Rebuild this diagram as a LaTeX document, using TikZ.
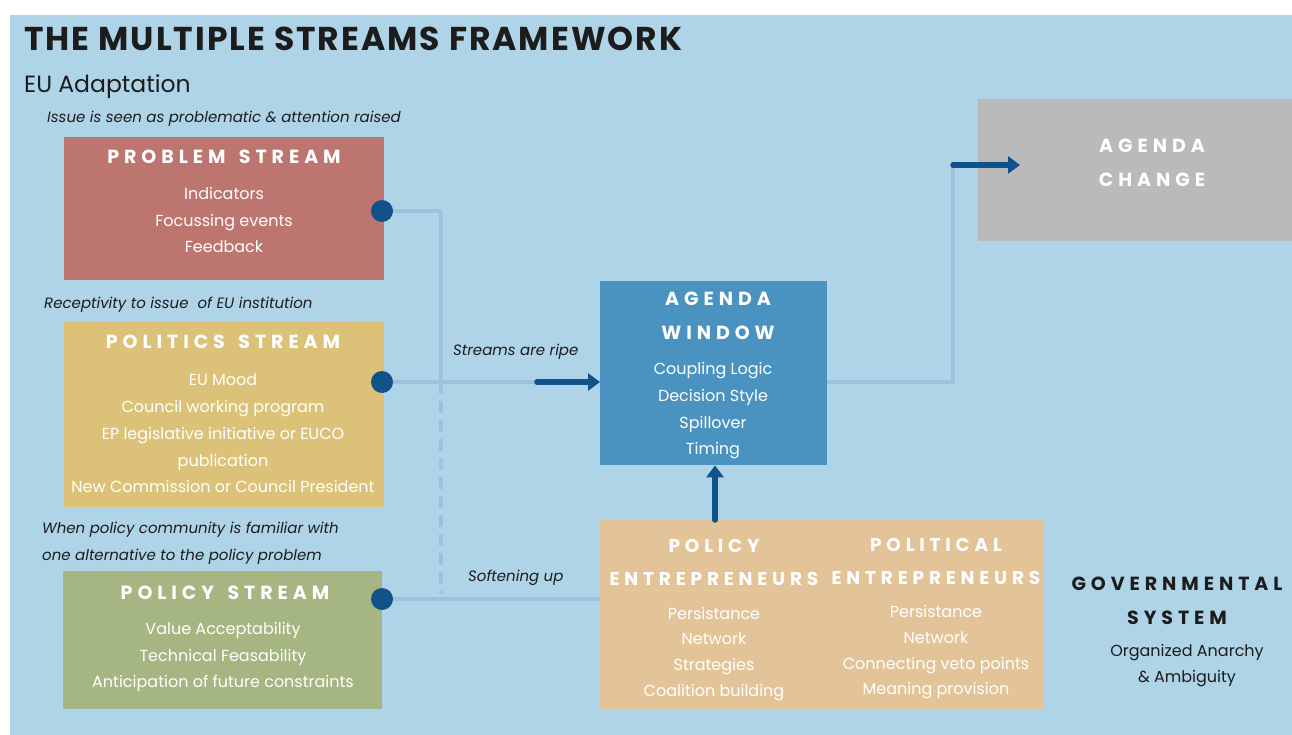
\documentclass[tikz,border=0pt]{standalone}
\usepackage{fontspec}
\setmainfont{Poppins}
\newfontfamily\headfont[LetterSpace=26,WordSpace=1.5]{Poppins}
\newfontfamily\titlefont[LetterSpace=6]{Poppins}
\usetikzlibrary{arrows.meta}

\definecolor{bgblue}{RGB}{175,212,232}
\definecolor{problemred}{RGB}{189,117,112}
\definecolor{politicsgold}{RGB}{220,194,120}
\definecolor{policygreen}{RGB}{165,182,130}
\definecolor{windowblue}{RGB}{74,147,192}
\definecolor{changegrey}{RGB}{186,186,186}
\definecolor{entresand}{RGB}{227,196,152}
\definecolor{dotblue}{RGB}{18,82,138}
\definecolor{linkblue}{RGB}{158,194,217}
\definecolor{inkdark}{RGB}{28,28,28}

\begin{document}
\begin{tikzpicture}[x=1pt,y=-1pt,
  box/.style={inner sep=0pt, anchor=north west},
  head/.style={text=white, align=center, font=\headfont\bfseries\fontsize{19}{34}\selectfont},
  item/.style={text=white, align=center, font=\fontsize{16}{26.8}\selectfont},
  note/.style={anchor=west, inner sep=0pt, text=inkdark, font=\itshape\fontsize{15}{27}\selectfont},
  dot/.style={circle, fill=dotblue, minimum size=22pt, inner sep=0pt},
  link/.style={line width=4pt, draw=linkblue},
  push/.style={line width=5.5pt, draw=dotblue, line cap=round, -{Triangle[length=12pt,width=17pt]}}
]
% page
\useasboundingbox (0,0) rectangle (1292,735);
\fill[bgblue] (10,15) rectangle (1292,735);

% heading
\node[anchor=base west, inner sep=0pt, text=inkdark, font=\titlefont\bfseries\fontsize{33}{33}\selectfont] (title) at (24,51) {THE MULTIPLE STREAMS FRAMEWORK};
\node[anchor=base west, inner sep=0pt, text=inkdark, font=\fontsize{23.5}{23.5}\selectfont] (sub) at (24,93) {EU Adaptation};

% the three streams
\node[note] (probnote) at (47,119) {Issue is seen as problematic \& attention raised};
\node[box, fill=problemred, minimum width=320pt, minimum height=143pt] (problem) at (64,137) {};
\node[head] at (224,157) {PROBLEM STREAM};
\node[item] at (224,220) {Indicators\\Focussing events\\Feedback};

\node[note] (polinote) at (44,305) {Receptivity to issue\ \ of EU institution};
\node[box, fill=politicsgold, minimum width=320pt, minimum height=185pt] (politics) at (64,322) {};
\node[head] at (223,342) {POLITICS STREAM};
\node[item] at (223,433.5) {EU Mood\\Council working program\\EP legislative initiative or EUCO\\publication\\New Commission or Council President};

\node[note, align=left] (policynote) at (42,543.5) {When policy community is familiar with\\one alternative to the policy problem};
\node[box, fill=policygreen, minimum width=319pt, minimum height=138pt] (policy) at (63,571) {};
\node[head] at (225,593) {POLICY STREAM};
\node[item] at (223,657) {Value Acceptability\\Technical Feasability\\Anticipation of future constraints};

% window, change, entrepreneurs
\node[box, fill=windowblue, minimum width=227pt, minimum height=184pt] (window) at (600,281) {};
\node[head] at (718,316) {AGENDA\\WINDOW};
\node[item] at (713,410.8) {Coupling Logic\\Decision Style\\Spillover\\Timing};

\node[box, fill=changegrey, minimum width=314pt, minimum height=142pt] (change) at (978,99) {};
\node[head] at (1152,162.5) {AGENDA\\CHANGE};

\node[box, fill=entresand, minimum width=443pt, minimum height=189pt] (entre) at (600,520) {};
\node[head, font=\headfont\bfseries\fontsize{18.5}{33}\selectfont] at (714,562.5) {POLICY\\ENTREPRENEURS};
\node[item, font=\fontsize{16}{25.7}\selectfont] at (714,653.8) {Persistance\\Network\\Strategies\\Coalition building};
\node[head, font=\headfont\bfseries\fontsize{18.5}{33}\selectfont] at (936,561.5) {POLITICAL\\ENTREPRENEURS};
\node[item, font=\fontsize{16}{25.7}\selectfont] at (936,652.5) {Persistance\\Network\\Connecting veto points\\Meaning provision};

\node[head, text=inkdark] (govern) at (1177,601) {GOVERNMENTAL\\SYSTEM};
\node[item, text=inkdark, font=\fontsize{16}{26}\selectfont] at (1187,666) {Organized Anarchy\\\& Ambiguity};

% joints
\coordinate (bend) at (441,211);
\coordinate (split) at (441,382);
\coordinate (dashend) at (441,594);
\coordinate (ripe) at (537,382);
\coordinate (turn) at (953,165);
\coordinate (changetip) at (1020,165);
\coordinate (upfoot) at (715,520);

% faint stream lines
\draw[link] (bend) -- (split);
\draw[link, dash pattern=on 12pt off 7pt] (split) -- (dashend);
\draw[link] (382,211) -- (bend);
\draw[link] (382,382) -- (ripe);
\draw[link] (382,599) -- (entre.west |- 0,599);
\draw[link] (window.east |- ripe) -| (turn);

\node[dot] (probdot) at (382,211) {};
\node[dot] (polidot) at (382,382) {};
\node[dot] (policydot) at (382,599) {};

\node[note] at (453,352) {Streams are ripe};
\node[note] at (468,578) {Softening up};

% arrows
\draw[push] (ripe) -- (window.west |- ripe);
\draw[push] (upfoot) -- (upfoot |- window.south);
\draw[push] (turn) -- (changetip);
\end{tikzpicture}
\end{document}
